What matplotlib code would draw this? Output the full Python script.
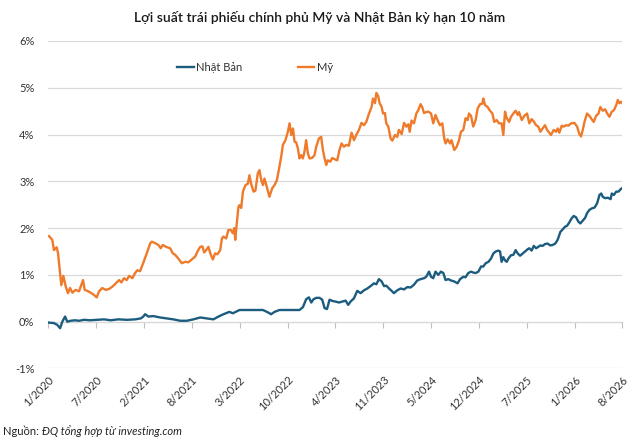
import matplotlib
matplotlib.use("Agg")
import matplotlib.pyplot as plt
from matplotlib.ticker import MultipleLocator, FuncFormatter

plt.rcParams['font.family'] = ['Lato', 'DejaVu Sans']

# trục hoành: số tuần tính từ 1/2020, nhãn đặt mỗi 28 tuần
tick_labels = ["1/2020", "7/2020", "2/2021", "8/2021", "3/2022", "10/2022", "4/2023",
               "11/2023", "5/2024", "12/2024", "7/2025", "1/2026", "8/2026"]
tick_step = 28

# lợi suất Mỹ (%)
my_week = [0.4, 2.3, 3.3, 4.9, 5.7, 7.6, 8.8, 10.2, 11.5, 12.7, 14.1, 16, 18, 20.3, 21.3, 22.8,
           24.8, 26.8, 28.3, 29.7, 31.6, 33.6, 35.6, 37.5, 39.5, 41.4, 42.8, 44.3, 45.9, 47.3, 49.2,
           50.6, 52.1, 53.7, 55.6, 57.6, 59.7, 60.6, 62.5, 64.4, 65.8, 67, 68.9, 71.3, 72.9, 74.2,
           76.1, 78.1, 80.1, 82, 84, 85.9, 87.3, 88.9, 90.2, 91.2, 92.4, 93.7, 95.1, 96.3, 97.6,
           99, 100.6, 101.6, 102.5, 104.1, 105.4, 106.8, 108, 108.8, 109.4, 110.3, 111.3, 111.9,
           112.9, 113.9, 115.4, 116.8, 117.7, 118.7, 120.1, 121.2, 122.6, 123.6, 124.6, 125.6,
           126.5, 127.9, 129.4, 131, 132.4, 133.8, 134.9, 136.3, 137.3, 138.8, 140.2, 141.2, 142.2,
           143.2, 144.1, 145.1, 146.1, 147, 148, 149, 149.9, 150.9, 151.9, 152.9, 154.4, 155.8,
           156.8, 158.4, 159.7, 160.7, 161.7, 162.7, 163.6, 165, 166.2, 167.7, 169.1, 170.4,
           171.6, 173, 174.4, 175.9, 177.5, 178.9, 180.2, 181.8, 183.3, 184.7, 186.1, 187.7,
           189.2, 190, 191.2, 192, 193.1, 193.9, 195.1, 195.9, 197, 197.8, 199, 200.3, 201.3,
           202.9, 204.2, 205.2, 206.8, 208.2, 209.5, 210.7, 211.5, 212.6, 214, 215.4, 216.5,
           217.9, 218.9, 219.9, 221.2, 222.4, 224, 225.3, 226.6, 227.8, 229.2, 230.6, 231.7,
           232.5, 233.7, 235.1, 236, 237.6, 239, 240.4, 241.5, 242.9, 244.2, 245.4, 246.2, 247.4,
           248.7, 250.1, 251.3, 252.7, 254, 254.6, 255.6, 257.1, 258.5, 259.9, 261, 262.4, 263.8,
           265.3, 266.3, 267.3, 268.3, 269.7, 270.8, 272.2, 273.5, 274.7, 275.5, 277.1, 278.6,
           280.2, 281.5, 282.9, 284.1, 285.5, 286.8, 288, 289.3, 290.7, 291.9, 293.2, 294.2,
           295.8, 297.2, 298.1, 299.1, 300.5, 301.6, 303, 304.4, 306, 307.9, 309.5, 310.8, 311.8,
           312.8, 313.8, 315.3, 316.7, 318, 319.2, 320.6, 322, 323.1, 324.5, 325.9, 327.1, 328.4,
           329.8, 331, 332.4, 333.3, 334.3, 335.3, 336]
my_yield = [1.83, 1.75, 1.53, 1.59, 1.46, 0.78, 0.98, 0.75, 0.61, 0.72, 0.62, 0.68, 0.65, 0.89,
            0.68, 0.66, 0.62, 0.57, 0.52, 0.65, 0.72, 0.68, 0.70, 0.75, 0.82, 0.89, 0.84, 0.93,
            0.89, 0.98, 0.93, 1.03, 1.10, 1.08, 1.26, 1.46, 1.68, 1.71, 1.68, 1.64, 1.57, 1.64,
            1.60, 1.57, 1.46, 1.43, 1.35, 1.25, 1.28, 1.27, 1.33, 1.39, 1.50, 1.60, 1.61, 1.48,
            1.53, 1.60, 1.43, 1.33, 1.46, 1.44, 1.53, 1.78, 1.82, 1.78, 1.96, 1.96, 1.89, 2.00,
            1.75, 2.10, 2.46, 2.49, 2.43, 2.78, 2.92, 2.95, 3.13, 2.95, 2.78, 2.80, 3.17, 3.24,
            3.03, 2.92, 3.06, 2.88, 2.67, 2.85, 2.92, 3.03, 3.24, 3.53, 3.78, 3.88, 4.06, 4.24,
            3.99, 4.13, 3.85, 3.83, 3.70, 3.49, 3.56, 3.49, 3.63, 3.88, 3.60, 3.49, 3.50, 3.56,
            3.74, 3.92, 3.95, 3.67, 3.49, 3.35, 3.45, 3.42, 3.50, 3.47, 3.45, 3.67, 3.81, 3.74,
            3.78, 3.76, 4.04, 3.88, 3.99, 4.10, 4.25, 4.20, 4.27, 4.45, 4.59, 4.77, 4.67, 4.89,
            4.82, 4.67, 4.59, 4.45, 4.46, 4.24, 4.17, 3.92, 3.87, 3.99, 3.95, 4.10, 4.01, 4.25,
            4.17, 4.22, 4.06, 4.30, 4.24, 4.45, 4.52, 4.65, 4.58, 4.46, 4.48, 4.49, 4.45, 4.24,
            4.42, 4.31, 4.20, 4.24, 3.92, 3.81, 3.90, 3.81, 3.88, 3.67, 3.74, 3.88, 4.06, 4.10,
            4.35, 4.31, 4.45, 4.40, 4.17, 4.31, 4.56, 4.65, 4.66, 4.77, 4.63, 4.59, 4.51, 4.45,
            4.27, 4.31, 4.24, 4.24, 3.99, 4.49, 4.35, 4.27, 4.38, 4.45, 4.51, 4.42, 4.48, 4.31,
            4.40, 4.45, 4.24, 4.33, 4.28, 4.20, 4.17, 4.06, 4.13, 4.20, 4.10, 4.04, 3.99, 4.10,
            4.06, 4.13, 4.04, 4.19, 4.17, 4.20, 4.19, 4.24, 4.25, 4.17, 4.01, 3.96, 4.10, 4.27,
            4.45, 4.40, 4.33, 4.27, 4.40, 4.45, 4.59, 4.51, 4.54, 4.45, 4.38, 4.49, 4.52, 4.63,
            4.74, 4.67, 4.70, 4.67]

# lợi suất Nhật Bản (%)
jp_week = [0.4, 3.3, 5.3, 6.9, 8.2, 9.8, 11.1, 13.1, 15.6, 18, 20.9, 24.4, 28.7, 32.6, 36.5,
           40.8, 46.3, 50.8, 54.1, 55.6, 56.6, 58.6, 61.5, 65.4, 69.3, 73.2, 77.1, 81.1, 84.9,
           88.9, 92.8, 96.6, 99.6, 102.5, 106, 108, 110.3, 111.9, 113.9, 119.7, 125.6, 128.5,
           130.4, 132.4, 135.3, 141.2, 147, 149, 150.9, 152.5, 153.9, 155.2, 156.8, 158.7, 160.3,
           161.7, 163.1, 164.6, 166.6, 168.1, 170.1, 172, 174, 175.5, 176.9, 178.9, 180.8, 182.8,
           184.7, 186.7, 188.6, 190.6, 192, 193.5, 195.1, 196.5, 197.8, 199.4, 200.9, 202.3,
           204.2, 206.2, 208.2, 210.1, 212, 214, 215.9, 217.9, 219.9, 221.2, 222.8, 224, 225.3,
           226.6, 228.2, 229.8, 231.2, 232.5, 234.1, 235.7, 237.6, 239.5, 241, 242.9, 244.2,
           245.8, 247.4, 248.7, 250.1, 251.7, 253.3, 254.6, 256, 257.6, 259.1, 260.5, 261.8,
           263.4, 264.4, 265.3, 266.3, 267.3, 268.3, 269.3, 270.8, 272.2, 273.5, 274.7, 276.1,
           277.4, 279, 280.6, 281.5, 282.9, 284.1, 285.5, 286.8, 288, 289.3, 290.7, 292.2, 293.8,
           295.2, 296.7, 298.1, 299.7, 301, 302.4, 303.6, 304.9, 306.3, 307.5, 308.9, 310.2,
           311.4, 312.8, 314.2, 315.3, 316.7, 318, 319.7, 321.2, 322.6, 323.6, 324.5, 325.9,
           327.5, 329.1, 329.8, 331, 332.4, 333.7, 334.9, 336]
jp_yield = [-0.02, -0.03, -0.07, -0.14, 0.00, 0.11, 0.00, 0.02, 0.03, 0.02, 0.04, 0.03, 0.04,
            0.05, 0.03, 0.05, 0.04, 0.05, 0.07, 0.11, 0.16, 0.11, 0.12, 0.09, 0.07, 0.05, 0.02,
            0.02, 0.05, 0.09, 0.07, 0.05, 0.11, 0.16, 0.21, 0.18, 0.22, 0.25, 0.25, 0.25, 0.25,
            0.20, 0.16, 0.21, 0.25, 0.25, 0.25, 0.31, 0.48, 0.52, 0.41, 0.48, 0.51, 0.51, 0.47,
            0.29, 0.27, 0.47, 0.44, 0.43, 0.41, 0.43, 0.45, 0.36, 0.43, 0.50, 0.66, 0.61, 0.67,
            0.71, 0.76, 0.82, 0.80, 0.91, 0.86, 0.76, 0.77, 0.71, 0.66, 0.61, 0.67, 0.71, 0.69,
            0.74, 0.73, 0.79, 0.88, 0.91, 0.93, 0.96, 1.07, 0.96, 0.93, 1.07, 1.00, 1.07, 1.04,
            0.89, 0.91, 0.88, 0.86, 0.82, 0.91, 0.96, 0.95, 1.04, 1.07, 1.05, 1.04, 1.07, 1.18,
            1.18, 1.25, 1.28, 1.35, 1.46, 1.50, 1.52, 1.50, 1.28, 1.38, 1.31, 1.28, 1.35, 1.42,
            1.43, 1.53, 1.46, 1.41, 1.45, 1.50, 1.55, 1.57, 1.52, 1.62, 1.57, 1.60, 1.63, 1.62,
            1.66, 1.67, 1.63, 1.64, 1.67, 1.75, 1.92, 1.97, 2.03, 2.05, 2.12, 2.21, 2.26, 2.23,
            2.14, 2.10, 2.16, 2.22, 2.32, 2.39, 2.42, 2.44, 2.53, 2.71, 2.74, 2.67, 2.64, 2.65,
            2.62, 2.74, 2.71, 2.78, 2.78, 2.83, 2.86]

blue = "#1b5c7f"
orange = "#ef7a2a"
text_col = "#333333"

fig = plt.figure(figsize=(6.4, 4.48), dpi=100)
ax = fig.add_axes([0.0755, 0.1775, 0.897, 0.731])

ax.plot(jp_week, jp_yield, color=blue, lw=1.7, label="Nhật Bản", solid_joinstyle="round")
ax.plot(my_week, my_yield, color=orange, lw=1.7, label="Mỹ", solid_joinstyle="round")

ax.set_xlim(0, tick_step * (len(tick_labels) - 1))
ax.set_ylim(-1, 6)
ax.yaxis.set_major_locator(MultipleLocator(1))
ax.yaxis.set_major_formatter(FuncFormatter(lambda v, p: f"{v:.0f}%"))
ax.grid(axis="y", color="#d9d9d9", lw=0.9)
ax.set_axisbelow(True)
for s in ax.spines.values():
    s.set_visible(False)
ax.tick_params(axis="y", length=0, pad=10, labelsize=8, labelcolor=text_col)

ax.set_xticks([i * tick_step for i in range(len(tick_labels))])
ax.set_xticklabels(tick_labels, rotation=45, ha="right", va="top",
                   rotation_mode="anchor", fontsize=8, color=text_col)
ax.tick_params(axis="x", length=0, pad=4)

# trục ngang cắt tại 0%
zero = ax.secondary_xaxis(1 / 7)
zero.set_xticks([i * tick_step for i in range(len(tick_labels))])
zero.set_xticklabels([])
zero.tick_params(axis="x", length=4, color="#bfbfbf", width=0.8)
zero.spines["bottom"].set_color("#bfbfbf")
zero.spines["bottom"].set_linewidth(0.8)

leg = ax.legend(loc="center", bbox_to_anchor=(0.36, 0.92), ncol=2, frameon=False,
                fontsize=8, handlelength=1.5, handletextpad=0.2, columnspacing=5.0)
for t in leg.get_texts():
    t.set_color(text_col)

fig.text(0.5, 0.962, "Lợi suất trái phiếu chính phủ Mỹ và Nhật Bản kỳ hạn 10 năm",
         ha="center", va="center", fontsize=10, color="#1a1a1a", fontweight="semibold")

src = fig.text(0.005, 0.037, "Nguồn: ", ha="left", va="center", fontsize=8, color="#222222")
fig.canvas.draw()
bb = src.get_window_extent()
fig.text(bb.x1 / fig.bbox.width, 0.037, "ĐQ tổng hợp từ investing.com", ha="left",
         va="center", fontsize=8, color="#222222", style="italic")

fig.savefig("out.png", dpi=100)
